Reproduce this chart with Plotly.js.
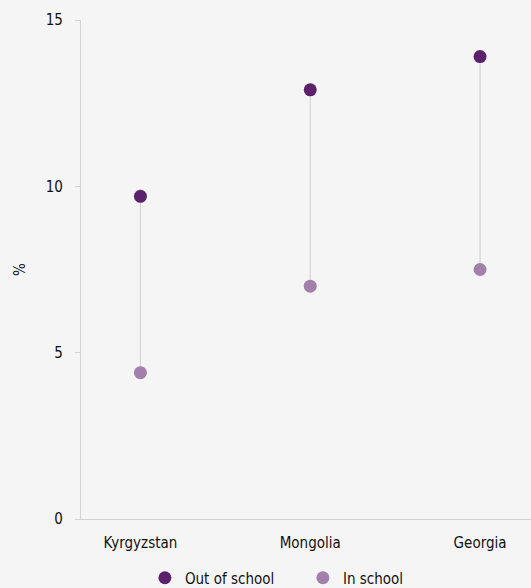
<!DOCTYPE html>
<html><head><meta charset="utf-8">
<script src="https://cdn.plot.ly/plotly-3.0.1.min.js"></script>
<style>html,body{margin:0;padding:0;background:#f5f5f5;}#chart{width:531px;height:588px;}</style>
</head><body><div id="chart"></div>
<script>
const categories = ["Kyrgyzstan", "Mongolia", "Georgia"];
const outOfSchool = [9.7, 12.9, 13.9];
const inSchool = [4.4, 7.0, 7.5];
const yTicks = [0, 5, 10, 15];

const font = "'DejaVu Sans Condensed', 'Liberation Sans Narrow', sans-serif";
const traces = [];
categories.forEach((c, i) => {
  traces.push({x: [c, c], y: [inSchool[i], outOfSchool[i]], mode: 'lines', type: 'scatter',
    line: {color: '#d3d3d3', width: 1.2}, showlegend: false, hoverinfo: 'skip'});
});
traces.push({x: categories, y: outOfSchool, name: 'Out of school', mode: 'markers', type: 'scatter',
  marker: {color: '#5c216c', size: 13}});
traces.push({x: categories, y: inSchool, name: 'In school', mode: 'markers', type: 'scatter',
  marker: {color: '#a37fab', size: 13}});

const layout = {
  width: 531, height: 588,
  paper_bgcolor: '#f5f5f5', plot_bgcolor: '#f5f5f5',
  margin: {l: 81, r: 0, t: 20, b: 69, autoexpand: false},
  font: {family: font, size: 15, color: '#111'},
  xaxis: {type: 'category', range: [-0.35, 2.3], showgrid: false, zeroline: false,
    showline: true, linecolor: '#d3d3d3', linewidth: 1.2, ticks: 'outside', ticklen: 10,
    tickcolor: 'rgba(0,0,0,0)', tickfont: {size: 15}},
  yaxis: {range: [0, 15], tickvals: yTicks, showgrid: false, zeroline: false,
    showline: true, linecolor: '#d3d3d3', linewidth: 1.2, ticks: 'outside', ticklen: 5,
    tickcolor: '#d3d3d3', tickfont: {size: 15}, ticklabelstandoff: 9,
    title: {text: '%', font: {size: 15}, standoff: 16}},
  showlegend: true,
  legend: {orientation: 'h', x: 0.142, xanchor: 'left', yref: 'container', y: 0.017, yanchor: 'middle',
    font: {size: 15}, entrywidth: 113, bgcolor: 'rgba(0,0,0,0)'}
};
Plotly.newPlot('chart', traces, layout, {displayModeBar: false, staticPlot: true});
</script></body></html>
